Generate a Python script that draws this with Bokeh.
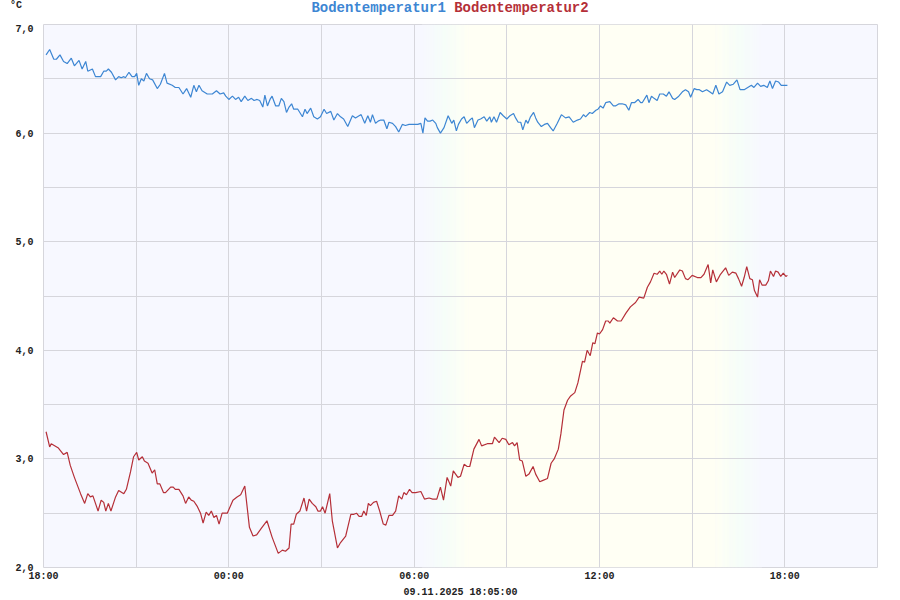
from bokeh.plotting import figure
from bokeh.models import FixedTicker, Range1d, Div
from bokeh.layouts import column
from bokeh.embed import file_html
from bokeh.resources import INLINE

# ---------------- data ----------------
title_1 = "Bodentemperatur1"
title_2 = "Bodentemperatur2"
unit_label = "°C"
date_label = "09.11.2025 18:05:00"

# time axis: minutes since 08.11.2025 18:00
x_tick_minutes = [0, 360, 720, 1080, 1440]
x_tick_labels = ["18:00", "00:00", "06:00", "12:00", "18:00"]
x_minor_minutes = [180, 540, 900, 1260]
x_end = 1620

y_ticks = [2, 3, 4, 5, 6, 7]
y_tick_labels = ["2,0", "3,0", "4,0", "5,0", "6,0", "7,0"]
y_minor = [2.5, 3.5, 4.5, 5.5, 6.5]

# daylight (minutes since 18:00)
sunrise_start, sunrise_end = 735, 825
sunset_start, sunset_end = 1305, 1395

t1 = [5, 12, 20, 25, 32, 39, 46, 54, 60, 69, 75, 82, 86, 95, 101, 111, 117, 122, 126, 132,
      140, 146, 151, 156, 159, 166, 172, 177, 181, 185, 190, 195, 200, 206, 212, 221, 227, 235,
      240, 250, 256, 263, 271, 278, 286, 292, 297, 302, 308, 318, 328, 336, 343, 350, 354, 360,
      367, 373, 379, 384, 391, 397, 404, 409, 415, 420, 426, 430, 435, 440, 444, 451, 457, 462,
      467, 472, 477, 482, 486, 494, 503, 508, 512, 519, 525, 532, 538, 545, 550, 558, 564, 571,
      577, 583, 591, 600, 606, 613, 617, 624, 630, 635, 639, 645, 650, 655, 661, 667, 671, 678,
      684, 690, 697, 703, 710, 720, 727, 733, 737, 741, 746, 751, 756, 762, 765, 771, 778, 786,
      793, 797, 802, 806, 812, 817, 822, 828, 833, 837, 844, 849, 856, 861, 867, 870, 875, 880,
      887, 893, 900, 906, 913, 917, 922, 927, 931, 937, 941, 946, 952, 956, 960, 967, 973, 979,
      985, 990, 998, 1006, 1014, 1021, 1029, 1037, 1043, 1049, 1053, 1061, 1066, 1073, 1077,
      1082, 1087, 1092, 1100, 1107, 1111, 1118, 1124, 1131, 1137, 1142, 1148, 1155, 1160, 1163,
      1172, 1176, 1181, 1186, 1192, 1197, 1204, 1210, 1215, 1222, 1226, 1234, 1241, 1247, 1253,
      1257, 1264, 1269, 1274, 1280, 1288, 1294, 1300, 1306, 1312, 1319, 1327, 1333, 1340, 1347,
      1353, 1361, 1368, 1375, 1380, 1387, 1393, 1399, 1406, 1411, 1416, 1422, 1428, 1433, 1440,
      1445]
temp1 = [6.72, 6.77, 6.68, 6.68, 6.72, 6.66, 6.64, 6.69, 6.62, 6.67, 6.59, 6.66, 6.57, 6.59,
         6.52, 6.52, 6.57, 6.57, 6.59, 6.56, 6.49, 6.52, 6.51, 6.52, 6.51, 6.56, 6.52, 6.52,
         6.55, 6.44, 6.50, 6.48, 6.55, 6.50, 6.49, 6.41, 6.45, 6.55, 6.46, 6.44, 6.42, 6.42,
         6.36, 6.41, 6.33, 6.44, 6.38, 6.44, 6.39, 6.36, 6.36, 6.39, 6.36, 6.37, 6.34, 6.31,
         6.34, 6.31, 6.33, 6.29, 6.34, 6.30, 6.32, 6.30, 6.31, 6.30, 6.24, 6.35, 6.25, 6.31,
         6.34, 6.25, 6.25, 6.32, 6.29, 6.19, 6.24, 6.27, 6.22, 6.22, 6.15, 6.22, 6.18, 6.23,
         6.15, 6.13, 6.15, 6.22, 6.18, 6.20, 6.12, 6.18, 6.15, 6.13, 6.06, 6.16, 6.14, 6.16,
         6.17, 6.09, 6.16, 6.10, 6.17, 6.09, 6.11, 6.12, 6.12, 6.04, 6.10, 6.09, 6.06, 6.01,
         6.08, 6.07, 6.08, 6.08, 6.08, 6.09, 6.00, 6.14, 6.11, 6.11, 6.12, 6.09, 6.05, 6.00,
         6.05, 6.16, 6.09, 6.12, 6.02, 6.08, 6.13, 6.15, 6.09, 6.12, 6.14, 6.05, 6.12, 6.13,
         6.15, 6.11, 6.15, 6.10, 6.15, 6.10, 6.19, 6.16, 6.13, 6.16, 6.18, 6.14, 6.10, 6.10,
         6.03, 6.12, 6.09, 6.15, 6.19, 6.14, 6.10, 6.06, 6.08, 6.09, 6.05, 6.02, 6.09, 6.17,
         6.14, 6.15, 6.10, 6.12, 6.13, 6.17, 6.15, 6.19, 6.18, 6.21, 6.22, 6.25, 6.23, 6.28,
         6.29, 6.25, 6.25, 6.27, 6.27, 6.26, 6.21, 6.28, 6.28, 6.31, 6.28, 6.28, 6.35, 6.28,
         6.34, 6.32, 6.30, 6.36, 6.36, 6.34, 6.38, 6.32, 6.31, 6.34, 6.38, 6.40, 6.38, 6.33,
         6.41, 6.40, 6.40, 6.38, 6.40, 6.38, 6.36, 6.44, 6.36, 6.38, 6.47, 6.44, 6.45, 6.49,
         6.40, 6.40, 6.42, 6.44, 6.42, 6.46, 6.43, 6.44, 6.42, 6.48, 6.41, 6.48, 6.47, 6.44,
         6.44, 6.44]

t2 = [5, 12, 15, 29, 39, 46, 52, 60, 72, 80, 86, 91, 96, 106, 112, 117, 121, 126, 131, 140,
      146, 156, 161, 169, 175, 181, 185, 192, 196, 203, 211, 216, 221, 226, 233, 237, 247, 252,
      256, 263, 271, 276, 282, 287, 292, 299, 305, 310, 316, 321, 326, 331, 336, 341, 347, 357,
      368, 376, 383, 391, 400, 407, 414, 423, 434, 444, 456, 464, 470, 477, 481, 486, 491, 498,
      506, 511, 516, 522, 529, 533, 538, 542, 547, 556, 561, 571, 577, 587, 591, 597, 603, 608,
      613, 618, 622, 627, 631, 635, 641, 647, 653, 660, 665, 671, 678, 684, 690, 696, 700, 705,
      711, 716, 723, 733, 740, 749, 756, 764, 771, 777, 784, 791, 796, 805, 810, 817, 823, 828,
      836, 846, 851, 862, 872, 876, 885, 891, 898, 904, 911, 915, 920, 925, 930, 937, 943, 951,
      956, 964, 969, 979, 986, 992, 1000, 1005, 1011, 1018, 1024, 1032, 1038, 1047, 1051, 1056,
      1062, 1067, 1071, 1076, 1080, 1086, 1092, 1097, 1100, 1107, 1115, 1122, 1131, 1140, 1150,
      1157, 1166, 1173, 1179, 1186, 1192, 1197, 1201, 1205, 1210, 1216, 1222, 1226, 1236, 1241,
      1247, 1252, 1260, 1270, 1277, 1283, 1291, 1296, 1300, 1307, 1315, 1325, 1331, 1338, 1345,
      1350, 1356, 1361, 1366, 1372, 1377, 1381, 1387, 1391, 1396, 1403, 1408, 1412, 1418, 1422,
      1427, 1432, 1437, 1442, 1445]
temp2 = [3.25, 3.11, 3.14, 3.10, 3.04, 3.06, 2.94, 2.83, 2.68, 2.59, 2.68, 2.65, 2.66, 2.52,
         2.62, 2.60, 2.52, 2.59, 2.52, 2.65, 2.71, 2.68, 2.72, 2.88, 3.02, 3.06, 2.99, 3.02,
         2.98, 2.96, 2.87, 2.90, 2.77, 2.77, 2.69, 2.69, 2.74, 2.74, 2.72, 2.72, 2.66, 2.59,
         2.65, 2.62, 2.61, 2.56, 2.50, 2.41, 2.51, 2.48, 2.52, 2.46, 2.48, 2.40, 2.50, 2.50,
         2.62, 2.65, 2.67, 2.75, 2.37, 2.29, 2.30, 2.36, 2.43, 2.28, 2.13, 2.16, 2.15, 2.18,
         2.40, 2.40, 2.49, 2.52, 2.64, 2.52, 2.63, 2.59, 2.56, 2.52, 2.52, 2.56, 2.50, 2.68,
         2.43, 2.18, 2.23, 2.29, 2.37, 2.49, 2.49, 2.50, 2.47, 2.47, 2.52, 2.48, 2.59, 2.57,
         2.60, 2.61, 2.52, 2.40, 2.39, 2.48, 2.48, 2.52, 2.66, 2.63, 2.69, 2.67, 2.72, 2.69,
         2.69, 2.70, 2.63, 2.64, 2.63, 2.63, 2.74, 2.62, 2.83, 2.75, 2.89, 2.83, 2.84, 2.95,
         2.93, 2.93, 3.09, 3.18, 3.12, 3.14, 3.14, 3.20, 3.15, 3.19, 3.18, 3.13, 3.15, 3.12,
         3.15, 2.99, 2.98, 2.84, 2.86, 2.93, 2.86, 2.79, 2.80, 2.82, 2.96, 3.00, 3.09, 3.23,
         3.45, 3.54, 3.58, 3.61, 3.70, 3.90, 3.89, 4.00, 3.95, 4.07, 4.06, 4.16, 4.15, 4.19,
         4.27, 4.27, 4.25, 4.30, 4.27, 4.27, 4.34, 4.40, 4.44, 4.49, 4.48, 4.58, 4.63, 4.71,
         4.70, 4.73, 4.70, 4.73, 4.70, 4.61, 4.72, 4.67, 4.74, 4.73, 4.66, 4.65, 4.69, 4.67,
         4.67, 4.70, 4.79, 4.62, 4.74, 4.63, 4.70, 4.76, 4.69, 4.72, 4.71, 4.66, 4.59, 4.67,
         4.77, 4.66, 4.65, 4.55, 4.49, 4.65, 4.60, 4.60, 4.64, 4.73, 4.68, 4.73, 4.72, 4.68,
         4.71, 4.68, 4.69]

# ---------------- style ----------------
BLUE = "#3d86d3"
RED = "#b52f38"
NIGHT = (247, 248, 255)
DAWN = (246, 254, 248)
DAY = (255, 255, 244)
GRID = "#d6d6dc"
FONT = "Liberation Mono"
TEXT = "#222222"

W, H, TOP = 900, 600, 24
p = figure(width=W, height=H - TOP, output_backend="svg", toolbar_location=None,
           x_range=Range1d(0, x_end), y_range=Range1d(2, 7),
           min_border_left=43, min_border_right=23, min_border_top=0, min_border_bottom=33)
p.background_fill_color = "#%02x%02x%02x" % NIGHT
p.border_fill_color = "white"
p.outline_line_color = GRID
p.outline_line_width = 1


def mix(c1, c2, f):
    return "#%02x%02x%02x" % tuple(round(a + (b - a) * f) for a, b in zip(c1, c2))


def grad_color(f):
    # night -> dawn -> day along f in [0, 1]
    return mix(NIGHT, DAWN, f * 2) if f < 0.5 else mix(DAWN, DAY, (f - 0.5) * 2)


steps = 40
lefts, rights, colors = [], [], []
for a, b, rising in [(sunrise_start, sunrise_end, True), (sunset_start, sunset_end, False)]:
    w = (b - a) / steps
    for i in range(steps):
        f = (i + 0.5) / steps
        lefts.append(a + i * w)
        rights.append(a + (i + 1) * w + 0.3)
        colors.append(grad_color(f if rising else 1 - f))
lefts.append(sunrise_end)
rights.append(sunset_start)
colors.append("#%02x%02x%02x" % DAY)
bg = p.quad(left=lefts, right=rights, bottom=2, top=7, fill_color=colors, line_color=None)
bg.level = "image"

p.line(t1, temp1, line_color=BLUE, line_width=1.2)
p.line(t2, temp2, line_color=RED, line_width=1.2)

# axes
p.xaxis.ticker = FixedTicker(ticks=x_tick_minutes, minor_ticks=x_minor_minutes)
p.xaxis.major_label_overrides = {t: l for t, l in zip(x_tick_minutes, x_tick_labels)}
p.yaxis.ticker = FixedTicker(ticks=y_ticks, minor_ticks=y_minor)
p.yaxis.major_label_overrides = {t: l for t, l in zip(y_ticks, y_tick_labels)}
for ax in (p.xaxis[0], p.yaxis[0]):
    ax.axis_line_color = None
    ax.major_tick_line_color = None
    ax.minor_tick_line_color = None
    ax.major_label_text_font = FONT
    ax.major_label_text_font_style = "bold"
    ax.major_label_text_font_size = "10px"
    ax.major_label_text_color = TEXT
p.xaxis.major_label_standoff = -3
p.yaxis.major_label_standoff = 4
p.xaxis.axis_label = date_label
p.xaxis.axis_label_text_font = FONT
p.xaxis.axis_label_text_font_style = "bold"
p.xaxis.axis_label_text_font_size = "10px"
p.xaxis.axis_label_text_color = TEXT
p.xaxis.axis_label_standoff = 2

for g in (p.xgrid[0], p.ygrid[0]):
    g.grid_line_color = GRID
    g.grid_line_width = 1
    g.minor_grid_line_color = GRID
    g.minor_grid_line_width = 1

# header: unit and the two coloured series names
header_html = (
    f'<div style="position:relative;width:{W}px;height:{TOP}px;'
    f"font-family:'{FONT}',monospace;font-weight:bold;\">"
    f'<span style="position:absolute;left:10px;top:0px;font-size:10px;line-height:12px;'
    f'color:{TEXT};">{unit_label}</span>'
    f'<div style="position:absolute;left:0px;top:0px;width:{W}px;text-align:center;'
    f'font-size:14px;line-height:16px;white-space:pre;">'
    f'<span style="color:{BLUE};">{title_1}</span> '
    f'<span style="color:{RED};">{title_2}</span></div></div>'
)
header = Div(text=header_html, width=W, height=TOP, styles={"margin": "0", "padding": "0"})

layout = column(header, p, spacing=0)
open("out.html", "w").write(file_html(layout, INLINE))
